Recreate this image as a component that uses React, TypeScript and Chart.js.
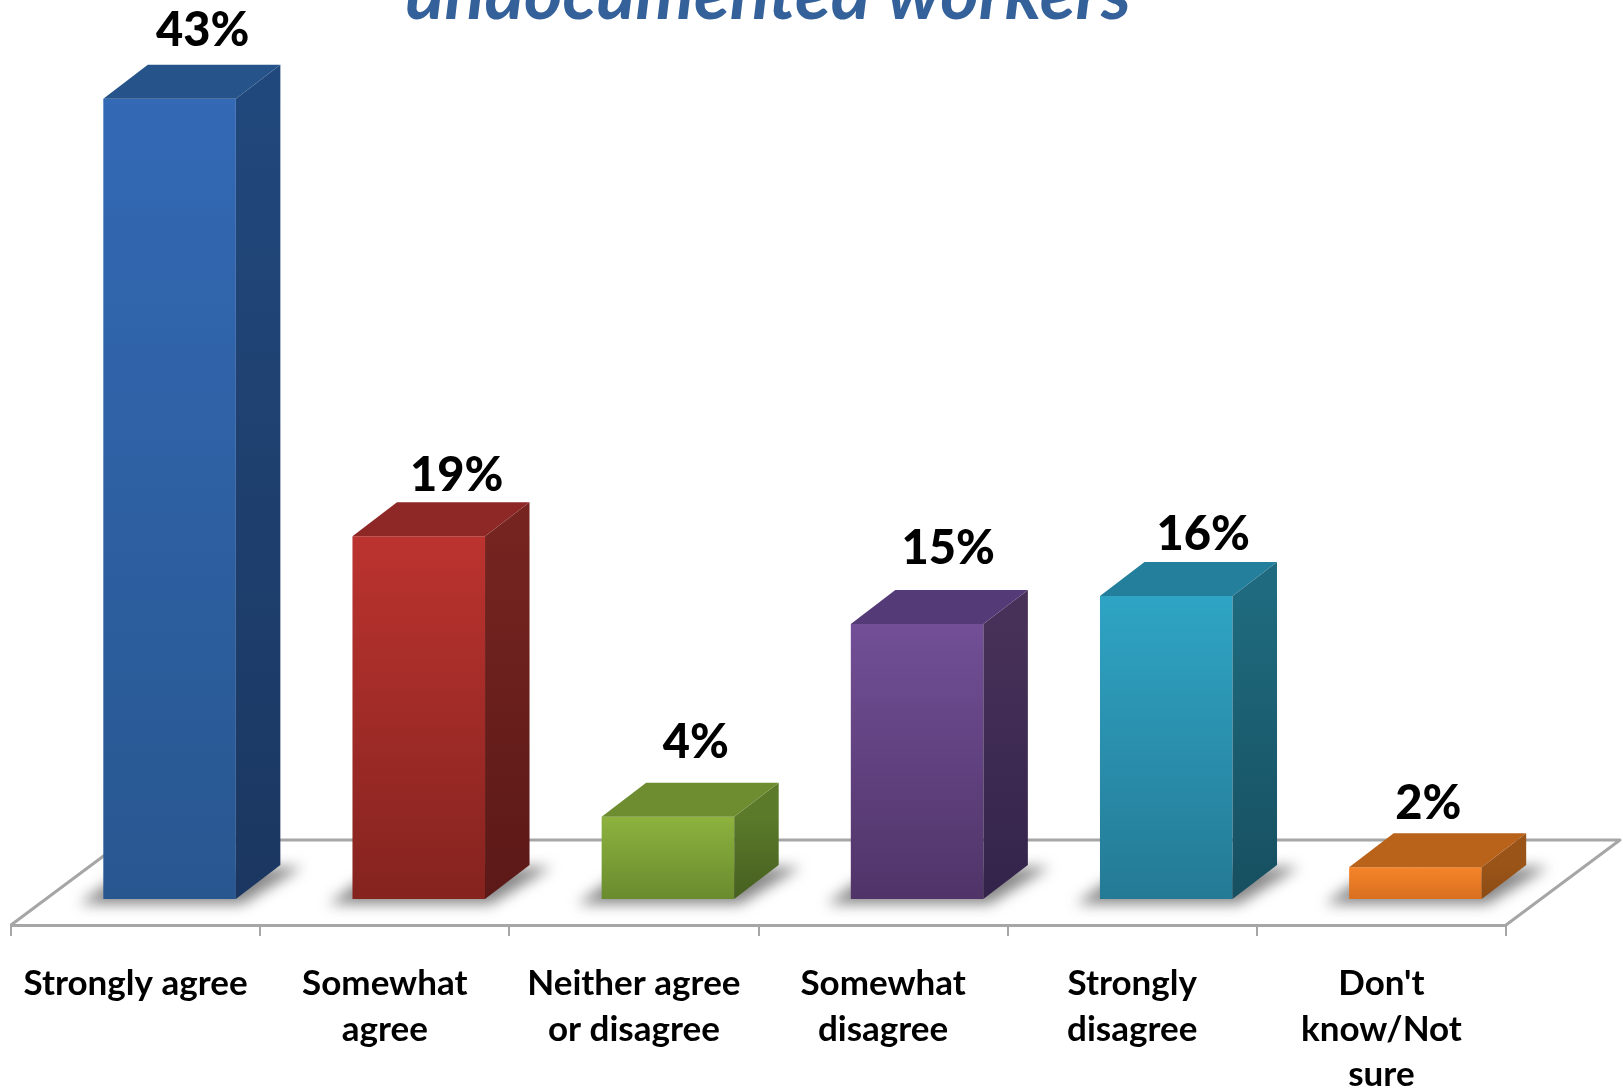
import React, { useEffect, useRef } from "react";
import { Chart, registerables } from "chart.js";

Chart.register(...registerables);

const categories = [
  ["Strongly agree"],
  ["Somewhat", "agree"],
  ["Neither agree", "or disagree"],
  ["Somewhat", "disagree"],
  ["Strongly", "disagree"],
  ["Don't", "know/Not", "sure"],
];
const values = [42.8, 19.4, 4.4, 14.7, 16.2, 1.7];
const valueLabels = ["43%", "19%", "4%", "15%", "16%", "2%"];
const titleText = "undocumented workers";

const frontTop = ["#3369B5", "#BC332F", "#8DB23E", "#724F97", "#2FA4C4", "#F58429"];
const frontBottom = ["#285790", "#85231F", "#6A8B2E", "#503468", "#247A95", "#D9701F"];
const sideTop = ["#21487C", "#752420", "#5B7A2A", "#473159", "#1F6A7E", "#9A5418"];
const sideBottom = ["#1B3761", "#5B1917", "#465F20", "#33234A", "#164F60", "#8B4B14"];
const topFace = ["#25538A", "#8E2826", "#6E8D31", "#553A78", "#237F9B", "#B8621A"];

const labelDx = [33, 38, 28, 31, 37, 13];
const labelDy = [-68, -60, -74, -75, -61, -63];

const FONT = "Lato, Carlito, 'Open Sans', sans-serif";
const GREY = "#A6A6A6";
const SHIFT_X = 34;
const SHIFT_Y = -26;
const DEPTH_X = 44.5;
const DEPTH_Y = 34;
const FLOOR_DX = 114;
const FLOOR_DY = 85;

const threeD = {
  id: "threeD",
  beforeDatasetsDraw(chart: any) {
    const { ctx, scales } = chart;
    const x = scales.x;
    const y0 = scales.y.getPixelForValue(0);
    ctx.save();
    ctx.strokeStyle = GREY;
    ctx.lineWidth = 3;
    ctx.lineJoin = "round";
    ctx.beginPath();
    ctx.moveTo(x.left, y0);
    ctx.lineTo(x.left + FLOOR_DX, y0 - FLOOR_DY);
    ctx.lineTo(x.right + FLOOR_DX, y0 - FLOOR_DY);
    ctx.lineTo(x.right, y0);
    ctx.stroke();
    ctx.restore();

    const bars = chart.getDatasetMeta(0).data;
    ctx.save();
    ctx.translate(SHIFT_X, SHIFT_Y);
    bars.forEach((b: any) => {
      const xl = b.x - b.width / 2;
      const xr = b.x + b.width / 2;
      ctx.save();
      ctx.filter = "blur(7px)";
      ctx.fillStyle = "rgba(60,60,60,0.62)";
      ctx.beginPath();
      ctx.moveTo(xl - 24, b.base + 5);
      ctx.lineTo(xl + 8, b.base - 18);
      ctx.lineTo(xr + DEPTH_X, b.base - DEPTH_Y + 2);
      ctx.lineTo(xr + DEPTH_X + 22, b.base - DEPTH_Y + 2);
      ctx.lineTo(xr + 6, b.base + 5);
      ctx.closePath();
      ctx.fill();
      ctx.restore();
    });
  },
  afterDatasetsDraw(chart: any) {
    const { ctx } = chart;
    const bars = chart.getDatasetMeta(0).data;
    bars.forEach((b: any, i: number) => {
      const xl = b.x - b.width / 2;
      const xr = b.x + b.width / 2;
      const g = ctx.createLinearGradient(0, b.y, 0, b.base);
      g.addColorStop(0, sideTop[i]);
      g.addColorStop(1, sideBottom[i]);
      ctx.fillStyle = g;
      ctx.beginPath();
      ctx.moveTo(xr, b.y);
      ctx.lineTo(xr + DEPTH_X, b.y - DEPTH_Y);
      ctx.lineTo(xr + DEPTH_X, b.base - DEPTH_Y);
      ctx.lineTo(xr, b.base);
      ctx.closePath();
      ctx.fill();
      ctx.fillStyle = topFace[i];
      ctx.beginPath();
      ctx.moveTo(xl, b.y);
      ctx.lineTo(xl + DEPTH_X, b.y - DEPTH_Y);
      ctx.lineTo(xr + DEPTH_X, b.y - DEPTH_Y);
      ctx.lineTo(xr, b.y);
      ctx.closePath();
      ctx.fill();
    });
    ctx.restore();

    ctx.save();
    ctx.fillStyle = "#000000";
    ctx.textAlign = "center";
    ctx.textBaseline = "middle";
    ctx.font = `900 47px ${FONT}`;
    bars.forEach((b: any, i: number) => {
      ctx.fillText(valueLabels[i], b.x + SHIFT_X + labelDx[i], b.y + SHIFT_Y + labelDy[i]);
    });
    ctx.fillStyle = "#35619A";
    ctx.font = `italic bold 73.5px ${FONT}`;
    ctx.textBaseline = "alphabetic";
    ctx.fillText(titleText, 768, 19);
    ctx.restore();
  },
};

export default function App() {
  const ref = useRef<HTMLCanvasElement>(null);
  useEffect(() => {
    document.body.style.margin = "0";
    document.body.style.background = "#ffffff";
    const chart = new Chart(ref.current as HTMLCanvasElement, {
      type: "bar",
      data: {
        labels: categories,
        datasets: [
          {
            data: values,
            clip: false,
            barPercentage: 0.532,
            categoryPercentage: 1,
            borderWidth: 0,
            backgroundColor: (c: any) => {
              const i = c.dataIndex;
              if (i === undefined || !c.chart.chartArea) return frontTop[i ?? 0];
              const yS = c.chart.scales.y;
              const g = c.chart.ctx.createLinearGradient(0, yS.getPixelForValue(values[i]), 0, yS.getPixelForValue(0));
              g.addColorStop(0, frontTop[i]);
              g.addColorStop(1, frontBottom[i]);
              return g;
            },
          } as any,
        ],
      },
      options: {
        responsive: false,
        animation: false,
        layout: { padding: { left: 11, right: 117, top: 83.5, bottom: 0 } },
        plugins: { legend: { display: false }, tooltip: { enabled: false }, title: { display: false } },
        scales: {
          x: {
            afterFit: (s: any) => {
              s.height = 164;
              s.paddingLeft = 0;
              s.paddingRight = 0;
            },
            border: { color: GREY, width: 3 },
            grid: { drawOnChartArea: false, drawTicks: true, tickLength: 11, color: GREY, lineWidth: 2 },
            ticks: {
              padding: 25,
              color: "#000000",
              maxRotation: 0,
              autoSkip: false,
              font: { family: FONT, weight: "bold", size: 35, lineHeight: 1.3 },
            },
          },
          y: { display: false, min: 0, max: 45 },
        },
      } as any,
      plugins: [threeD],
    });
    return () => chart.destroy();
  }, []);
  return <canvas ref={ref} width={1623} height={1089} style={{ display: "block" }} />;
}
